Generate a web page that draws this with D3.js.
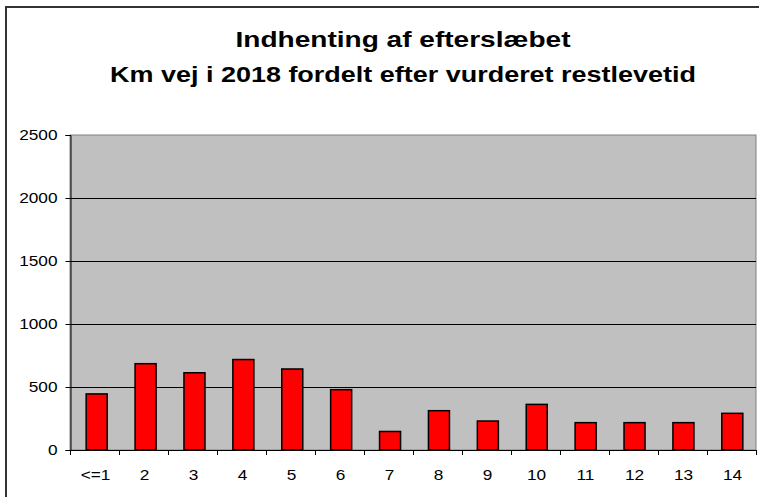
<!DOCTYPE html>
<html>
<head>
<meta charset="utf-8">
<script src="https://cdn.jsdelivr.net/npm/d3@7"></script>
<style>
  body { margin: 0; background: #fff; }
  text { font-family: "Liberation Sans", Arial, sans-serif; }
</style>
</head>
<body>
<div id="chart"></div>
<script>
// data
var categories = ["<=1", "2", "3", "4", "5", "6", "7", "8", "9", "10", "11", "12", "13", "14"];
var kmValues = [445, 685, 613, 718, 643, 479, 147, 312, 230, 362, 217, 217, 217, 291];
var yTicks = [0, 500, 1000, 1500, 2000, 2500];
var titleLines = ["Indhenting af efterslæbet", "Km vej i 2018 fordelt efter vurderet restlevetid"];
var titleWidths = [335, 586];

var width = 759, height = 497;
var plot = {left: 70, right: 756, top: 135, bottom: 450};
var stretch = 1.15; // reference text is drawn a bit wide

var svg = d3.select("#chart").append("svg")
    .attr("width", width)
    .attr("height", height);

// outer chart border
svg.append("rect")
    .attr("x", 6).attr("y", 7)
    .attr("width", 770).attr("height", 510)
    .attr("fill", "none")
    .attr("stroke", "#333")
    .attr("stroke-width", 2);

// titles (fit to measured widths)
svg.selectAll(".title")
    .data(titleLines)
    .enter().append("text")
    .attr("class", "title")
    .attr("x", function(d, i) { return 403 - titleWidths[i] / 2; })
    .attr("y", function(d, i) { return 47 + i * 35; })
    .attr("textLength", function(d, i) { return titleWidths[i]; })
    .attr("lengthAdjust", "spacingAndGlyphs")
    .style("font-size", "22px")
    .style("font-weight", "bold")
    .text(function(d) { return d; });

// scales
var x = d3.scaleBand()
    .domain(categories)
    .range([plot.left, plot.right])
    .paddingInner(0.57)
    .paddingOuter(0.3);

var xCat = d3.scaleBand()
    .domain(categories)
    .range([plot.left, plot.right]);

var y = d3.scaleLinear()
    .domain([0, 2500])
    .range([plot.bottom, plot.top]);

// plot background
svg.append("rect")
    .attr("x", plot.left).attr("y", plot.top)
    .attr("width", plot.right - plot.left)
    .attr("height", plot.bottom - plot.top)
    .attr("fill", "#c0c0c0")
    .attr("stroke", "#808080")
    .attr("stroke-width", 1);

// gridlines
svg.selectAll(".grid")
    .data(yTicks.filter(function(d) { return d > 0 && d < 2500; }))
    .enter().append("line")
    .attr("x1", plot.left).attr("x2", plot.right)
    .attr("y1", function(d) { return y(d) + 0.5; })
    .attr("y2", function(d) { return y(d) + 0.5; })
    .attr("stroke", "#000")
    .attr("stroke-width", 1);

// bars
svg.selectAll(".bar")
    .data(kmValues)
    .enter().append("rect")
    .attr("class", "bar")
    .attr("x", function(d, i) { return x(categories[i]) + 1.5; })
    .attr("y", function(d) { return y(d); })
    .attr("width", x.bandwidth())
    .attr("height", function(d) { return y(0) - y(d); })
    .attr("fill", "#ff0000")
    .attr("stroke", "#000")
    .attr("stroke-width", 1.5);

// y axis
var yAxis = d3.axisLeft(y)
    .tickValues(yTicks)
    .tickSize(5)
    .tickPadding(8)
    .tickFormat(d3.format("d"));

var gy = svg.append("g")
    .attr("transform", "translate(" + (plot.left + 0.5) + ",0)")
    .call(yAxis);
gy.select(".domain").attr("stroke", "#000");
gy.selectAll("text")
    .attr("x", null)
    .attr("transform", "translate(-13,0) scale(" + stretch + ",1)")
    .style("font-size", "15px")
    .style("font-family", "'Liberation Sans', Arial, sans-serif")
    .attr("fill", "#000");

// x axis: ticks at category boundaries
var boundaries = categories.map(function(c) { return xCat(c); }).concat([plot.right]);
var gx = svg.append("g");
gx.append("line")
    .attr("x1", plot.left).attr("x2", plot.right)
    .attr("y1", plot.bottom + 0.5).attr("y2", plot.bottom + 0.5)
    .attr("stroke", "#000");
gx.selectAll(".xt")
    .data(boundaries)
    .enter().append("line")
    .attr("x1", function(d) { return Math.round(d) + 0.5; })
    .attr("x2", function(d) { return Math.round(d) + 0.5; })
    .attr("y1", plot.bottom).attr("y2", plot.bottom + 5)
    .attr("stroke", "#000");
gx.selectAll(".xl")
    .data(categories)
    .enter().append("text")
    .attr("transform", function(d) {
      return "translate(" + (xCat(d) + xCat.bandwidth() / 2 + 1) + ",480) scale(" + stretch + ",1)";
    })
    .attr("text-anchor", "middle")
    .style("font-size", "15px")
    .text(function(d) { return d; });
</script>
</body>
</html>
